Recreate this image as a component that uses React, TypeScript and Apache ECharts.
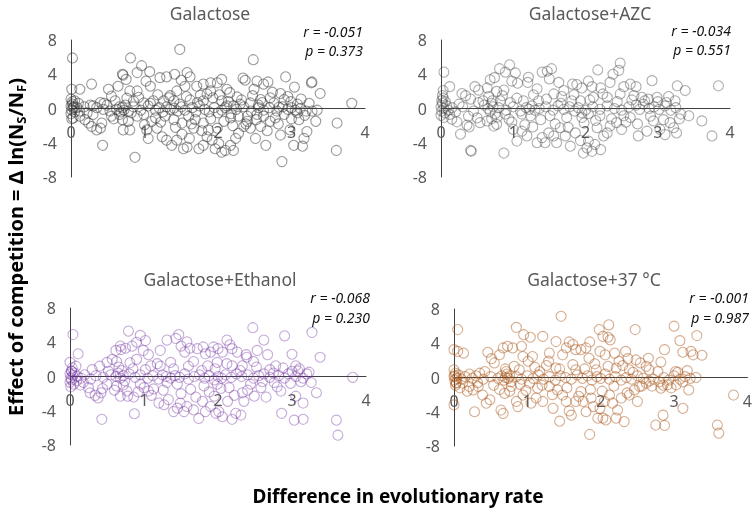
import React, { useEffect, useRef } from "react";
import * as echarts from "echarts";

const FONT = "Noto Sans";

const panelTitles = ["Galactose", "Galactose+AZC", "Galactose+Ethanol", "Galactose+37 °C"];
const rTexts = ["r = -0.051", "r = -0.034", "r = -0.068", "r = -0.001"];
const pTexts = ["p = 0.373", "p = 0.551", "p = 0.230", "p = 0.987"];
const xTicks = { min: 0, max: 4, interval: 1 };
const yTicks = { min: -8, max: 8, interval: 4 };
const xTitle = "Difference in evolutionary rate";

const galactose: number[][] = [
  [0.02,5.9],[1.48,6.9],[0.81,5.9],[2.48,5.7],[0.96,5.0],[1.07,4.3],[0.70,4.0],[0.71,3.9],[0.9,4.2],[1.21,3.6],[1.3,3.7],[1.41,4.0],[1.58,4.2],[1.62,3.7],[1.5,3.3],[0.75,3.4],[0.64,2.6],[0.28,2.85],[0.01,2.25],[0.12,2.25],[0.51,2.25],[0.55,1.45],[0.8,2.05],[0.9,2.05],[1.02,3.2],[1.08,2.6],[1.55,2.6],[1.71,2.6],[1.8,2.85],[1.9,3.0],[1.99,3.0],[2.05,3.4],[2.12,2.25],[2.16,1.85],[2.34,3.55],[2.37,3.3],[2.53,3.2],[2.68,3.1],[2.49,2.25],[2.62,2.85],[2.92,3.7],[3.04,2.5],[3.27,3.0],[3.28,3.1],[3.39,1.75],[2.85,1.75],[3.82,0.6],[3.24,0.6],[2.71,1.25],[2.58,1.05],[2.26,1.35],[1.93,1.25],[1.76,1.55],[1.62,1.0],[1.4,0.9],[1.26,0.9],[1.12,0.9],[0.99,0.65],[0.85,0.85],[0.4,0.7],[0.49,0.4],[0.26,0.4],[1.9,2.05],[2.05,0.9],[1.8,0.9],[1.44,2.05],[1.33,1.25],[2.9,1.05],[2.99,0.8],[3.08,0.5],[2.83,0.15],[2.76,0.65],[2.55,0.1],[2.44,0.65],[2.3,0.5],[2.21,0.3],[2.1,0.1],
  [0.03,-1.1],[0.12,-0.9],[0.19,-1.3],[0.24,-1.7],[0.28,-2.1],[0.35,-2.5],[0.4,-2.3],[0.42,-1.7],[0.43,-4.3],[0.3,-0.7],[0.55,-0.9],[0.7,-1.3],[0.71,-2.5],[0.8,-2.5],[0.78,-1.5],[0.87,-5.7],[0.9,-0.9],[0.99,-0.7],[1.03,-2.5],[1.05,-3.5],[1.1,-1.5],[1.17,-2.3],[1.24,-3.3],[1.3,-3.7],[1.37,-4.3],[1.44,-3.7],[1.51,-3.0],[1.53,-4.7],[1.58,-4.5],[1.61,-3.5],[1.67,-2.3],[1.74,-4.7],[1.8,-4.3],[1.85,-3.3],[1.87,-2.5],[1.92,-3.7],[1.96,-4.7],[2.01,-4.1],[2.05,-5.1],[2.1,-4.9],[2.17,-4.3],[2.21,-4.9],[2.24,-3.5],[2.28,-2.9],[2.35,-2.1],[2.4,-1.5],[2.44,-2.3],[2.51,-3.5],[2.58,-2.1],[2.65,-4.3],[2.71,-1.5],[2.78,-1.1],[2.85,-3.1],[2.87,-6.2],[2.98,-2.5],[3.03,-4.3],[3.1,-1.3],[3.15,-4.4],[3.17,-3.5],[3.21,-2.7],[3.33,-1.5],[3.62,-1.7],[3.61,-4.9],[1.99,-2.3],[1.8,-1.7],[1.69,-1.3],[1.6,-0.9],[1.51,-1.7],[1.4,-1.3],[1.28,-0.9],[1.15,-1.1],[2.17,-1.1],[2.28,-0.9],[2.4,-0.9],[2.53,-0.7],[2.62,-0.9],[2.9,-0.7],[3.08,-0.5],[0.53,-0.3],[0.44,-0.1],
  [0,0.3],[0.01,-0.2],[0.02,0.5],[0.03,0.1],[0.0,-0.6],[0.02,0.8],[0.01,-1.2],[0.04,0.2],[0.05,-0.4],[0.0,1.1],[0.08,0.1],[0.12,-0.3],[0.18,0.2],[0.22,-0.5],[0.3,0.3],[0.35,0.1],[0.62,-0.1],[0.66,0.2],[0.68,-0.4],[0.7,0.1],[0.72,-0.2],[0.74,0.4],[0.66,-0.7],[0.78,-0.3],[0.85,0.2],[0.95,-0.2],[1.05,0.3],[1.15,-0.2],[1.2,0.1],[1.25,-0.4],[1.3,0.2],[1.35,-0.1],[1.4,0.05],[1.45,-0.3],[1.5,0.2],[1.55,-0.2],[1.65,0.1],[1.7,-0.4],[1.75,0.3],[1.82,-0.1],[1.88,-0.4],[1.95,0.1],[2.0,-0.5],[2.05,-0.2],[2.12,0.3],[2.18,-0.6],[2.25,-0.1],[2.35,0.2],[2.45,-0.3],[2.55,0.4],[2.62,-0.2],[2.7,0.1],[2.8,-0.3],[2.88,0.2],[2.95,-0.1],[3.0,0.1],[3.05,-0.2],[3.12,0.0],[3.2,-0.3],
  [0.05,0.9],[0.1,0.6],[0.45,0.6],[0.58,-1.2],[0.6,0.9],[0.76,1.2],[0.82,-0.5],[0.92,1.3],[1.0,-1.9],[1.08,0.6],[1.18,1.6],[1.22,-1.6],[1.35,1.5],[1.42,-2.2],[1.48,0.5],[1.57,1.4],[1.64,-1.8],[1.72,0.7],[1.78,-2.6],[1.85,1.7],[1.9,-1.2],[2.02,1.6],[2.08,-1.5],[2.14,0.8],[2.2,-2.0],[2.32,1.0],[2.38,-1.8],[2.47,1.5],[2.52,-1.3],[2.6,0.7],[2.67,-2.6],[2.74,1.9],[2.82,-1.8],[2.95,1.4],[3.0,-1.2],[3.13,1.1],[3.18,-0.8],[3.28,-0.3],[3.35,-0.2]
];

const galactoseAZC: number[][] = [
  [0.04,4.25],[0.12,2.55],[0.03,2.1],[0.41,-4.9],[0.47,2.55],[0.52,2.15],[0.64,2.4],[0.68,3.35],[0.74,3.6],[0.81,4.65],[0.89,4.25],[0.95,5.1],[1.03,4.15],[0.98,3.2],[0.87,2.15],[0.77,2.0],[1.06,2.95],[1.21,3.65],[1.2,3.05],[1.33,2.3],[1.4,4.25],[1.47,4.35],[1.53,4.65],[1.5,3.45],[1.63,3.05],[1.7,2.1],[1.82,2.85],[1.88,2.8],[1.95,2.4],[2.04,3.2],[2.09,2.55],[2.17,4.5],[2.21,2.4],[2.34,3.05],[2.38,4.0],[2.46,4.45],[2.48,5.3],[2.53,2.55],[2.62,2.85],[2.7,2.55],[2.92,3.25],[3.27,2.65],[3.38,2.1],[3.84,2.65],[2.48,1.7],[2.3,1.3],[2.11,1.3],[1.67,1.4],[1.56,1.7],[1.35,0.9],[1.14,0.9],[0.96,0.7],[0.82,0.9],[0.71,0.9],[0.34,1.5],[0.29,1.75],[0.41,1.1],[0.52,0.7],[2.67,1.5],[2.78,1.3],[2.87,1.1],[2.99,1.3],[3.12,0.7],[3.24,0.9],[1.93,0.9],[1.81,0.9],
  [0.04,-1.05],[0.15,-1.25],[0.22,-1.55],[0.27,-3.0],[0.36,-1.95],[0.39,-2.15],[0.42,-5.0],[0.54,-1.65],[0.64,-1.45],[0.73,-2.05],[0.77,-1.85],[0.87,-5.2],[0.89,-0.65],[0.94,-1.25],[1.0,-2.45],[1.05,-3.8],[1.12,-2.65],[1.19,-3.2],[1.27,-2.15],[1.33,-4.0],[1.4,-3.4],[1.44,-4.0],[1.49,-2.85],[1.56,-3.2],[1.6,-4.0],[1.65,-2.25],[1.72,-3.2],[1.79,-4.4],[1.86,-2.85],[1.93,-3.75],[1.97,-5.2],[2.02,-4.6],[2.04,-3.8],[2.09,-5.0],[2.13,-4.2],[2.16,-2.25],[2.21,-4.8],[2.25,-3.2],[2.3,-2.85],[2.34,-2.05],[2.43,-1.65],[2.5,-2.45],[2.62,-1.05],[2.73,-3.2],[2.85,-2.65],[2.94,-1.45],[3.03,-2.45],[3.1,-3.05],[3.17,-1.65],[3.22,-2.25],[3.26,-2.85],[3.32,-0.65],[3.61,-1.45],[3.75,-3.2],[3.43,-0.85],[2.53,-0.85],[2.2,-0.85],[1.95,-1.05],[1.74,-1.05],[1.51,-0.85],[1.24,-0.85],[1.12,-0.65],
  [0.0,0.2],[0.01,-0.3],[0.02,0.6],[0.03,1.2],[0.0,-0.8],[0.04,0.0],[0.02,1.5],[0.05,-0.5],[0.01,0.9],[0.08,0.3],[0.1,-0.2],[0.15,0.1],[0.2,-0.4],[0.3,0.2],[0.45,-0.3],[0.6,0.4],[0.65,0.0],[0.68,-0.3],[0.7,0.6],[0.72,0.2],[0.75,-0.6],[0.8,0.1],[0.9,-0.2],[1.0,0.2],[1.1,-0.3],[1.18,0.1],[1.22,-0.1],[1.26,0.3],[1.3,-0.2],[1.36,0.0],[1.45,0.2],[1.55,-0.2],[1.62,0.3],[1.7,-0.1],[1.78,0.2],[1.85,-0.3],[1.9,0.1],[1.95,-0.5],[2.0,-0.2],[2.04,-0.6],[2.1,0.2],[2.2,-0.1],[2.3,0.3],[2.4,0.0],[2.5,-0.2],[2.6,0.2],[2.7,0.4],[2.75,-0.1],[2.8,0.5],[2.88,0.0],[2.95,0.2],[3.02,-0.1],[3.1,0.3],[3.18,-0.2],[3.25,0.1],
  [0.06,0.8],[0.12,-0.7],[0.25,0.5],[0.38,-0.9],[0.5,-1.1],[0.58,0.9],[0.66,1.4],[0.7,-1.2],[0.78,-1.0],[0.85,1.5],[0.98,-1.6],[1.05,1.2],[1.16,-1.9],[1.28,1.6],[1.38,-1.3],[1.46,1.1],[1.58,-1.8],[1.66,0.6],[1.76,-2.2],[1.84,1.6],[1.98,-1.7],[2.06,1.0],[2.14,-1.4],[2.24,1.7],[2.36,-1.2],[2.44,0.8],[2.56,-1.6],[2.64,1.0],[2.72,-1.8],[2.82,0.9],[2.9,-0.9],[3.0,0.8],[3.08,-1.3],[3.15,1.4],[3.3,-1.2]
];

const galactoseEthanol: number[][] = [
  [0.04,4.9],[0.11,2.65],[0.79,5.3],[0.95,4.8],[1.02,4.2],[0.9,4.0],[0.84,3.55],[0.68,3.55],[0.62,3.05],[0.69,3.15],[0.75,3.3],[1.06,2.55],[0.99,3.05],[1.22,3.05],[1.31,4.25],[1.43,4.45],[1.47,4.9],[1.5,3.55],[1.55,2.85],[1.58,4.05],[1.62,3.3],[1.72,3.25],[1.8,3.45],[1.83,2.65],[1.9,2.85],[1.94,3.45],[2.0,3.25],[2.06,2.85],[2.12,4.25],[2.16,3.7],[2.19,3.25],[2.26,2.85],[2.38,2.55],[2.39,2.25],[2.47,5.7],[2.53,3.05],[2.62,4.25],[2.67,2.55],[2.9,4.75],[3.0,2.6],[3.27,5.15],[3.38,2.25],[0.4,1.2],[0.5,1.65],[0.57,2.0],[0.63,1.75],[0.81,1.6],[0.9,2.0],[1.09,1.25],[1.22,1.2],[1.36,1.65],[1.67,1.75],[1.86,1.25],[1.99,1.65],[2.19,1.25],[2.33,1.25],[2.48,1.75],[2.78,1.25],[3.05,1.25],[3.08,0.65],[3.23,0.5],[3.82,-0.1],[0.0,1.65],[0.02,0.65],
  [0.05,-0.9],[0.09,-0.5],[0.18,-0.7],[0.25,-1.3],[0.27,-1.9],[0.34,-2.2],[0.38,-2.5],[0.42,-1.9],[0.43,-5.0],[0.5,-0.9],[0.63,-1.1],[0.68,-2.3],[0.77,-1.7],[0.78,-2.3],[0.86,-2.4],[0.87,-4.35],[0.95,-0.9],[1.0,-1.3],[1.06,-1.7],[1.13,-1.45],[1.2,-3.1],[1.27,-3.3],[1.33,-2.7],[1.4,-4.1],[1.45,-3.7],[1.49,-3.1],[1.54,-4.1],[1.58,-3.5],[1.63,-1.5],[1.67,-3.9],[1.74,-4.9],[1.79,-2.9],[1.83,-4.1],[1.9,-3.5],[1.95,-2.3],[1.97,-4.3],[2.01,-4.1],[2.06,-4.7],[2.13,-2.9],[2.19,-5.0],[2.24,-4.3],[2.31,-4.5],[2.33,-1.9],[2.35,-2.9],[2.44,-0.9],[2.49,-2.3],[2.58,-1.3],[2.65,-2.4],[2.76,-0.7],[2.85,-1.7],[2.86,-4.3],[3.03,-5.1],[3.05,-2.3],[3.15,-3.1],[3.15,-5.0],[3.26,-0.7],[3.33,-1.9],[3.6,-5.1],[3.62,-6.85],[2.15,-1.3],[1.99,-0.9],[1.81,-1.1],[1.45,-0.9],[1.31,-0.7],
  [0.0,0.3],[0.01,-0.2],[0.02,0.6],[0.0,-0.7],[0.03,1.0],[0.01,-1.2],[0.04,0.1],[0.02,-0.4],[0.06,0.4],[0.1,0.0],[0.15,-0.2],[0.2,0.2],[0.28,-0.3],[0.35,0.1],[0.45,-0.1],[0.55,0.2],[0.62,0.0],[0.65,0.4],[0.68,-0.2],[0.7,0.7],[0.72,0.1],[0.74,-0.5],[0.8,0.3],[0.88,-0.1],[0.95,0.2],[1.05,-0.2],[1.12,0.1],[1.2,-0.3],[1.25,0.2],[1.3,0.0],[1.36,-0.2],[1.42,0.1],[1.48,-0.1],[1.55,0.3],[1.6,-0.3],[1.68,0.0],[1.75,0.2],[1.82,-0.2],[1.88,0.1],[1.95,-0.4],[2.0,0.0],[2.05,-0.2],[2.1,0.2],[2.18,-0.1],[2.25,0.3],[2.32,0.0],[2.4,0.2],[2.48,-0.2],[2.55,0.1],[2.62,0.3],[2.7,-0.1],[2.75,0.4],[2.82,0.1],[2.9,-0.2],[2.95,0.3],[3.0,0.6],[3.05,0.0],[3.1,0.9],[3.15,-0.2],
  [0.08,1.2],[0.14,-1.0],[0.3,0.8],[0.44,-1.4],[0.52,0.6],[0.6,-1.6],[0.66,1.1],[0.72,-1.0],[0.85,0.9],[0.92,-1.8],[1.02,0.8],[1.1,-2.2],[1.18,1.5],[1.26,-1.6],[1.4,0.9],[1.5,-2.0],[1.6,1.2],[1.7,-2.4],[1.78,0.7],[1.88,-1.8],[1.96,0.9],[2.04,-1.4],[2.12,1.5],[2.22,-2.2],[2.3,0.7],[2.4,-1.6],[2.52,1.1],[2.6,-0.6],[2.7,0.8],[2.8,-1.2],[2.88,1.0],[2.98,-0.8],[3.12,-0.6],[3.2,0.3]
];

const galactose37: number[][] = [
  [0.05,5.6],[0.0,3.25],[0.05,3.05],[0.13,2.85],[0.0,-3.2],[0.46,2.95],[0.51,2.2],[0.55,1.7],[0.62,2.65],[0.67,3.45],[0.73,3.65],[0.8,3.45],[0.85,5.85],[0.92,3.65],[0.95,5.0],[1.04,4.7],[0.94,2.45],[1.01,1.9],[1.07,2.45],[1.21,4.8],[1.3,2.85],[1.29,1.9],[1.39,4.2],[1.46,7.15],[1.48,2.65],[1.53,3.45],[1.57,4.15],[1.62,3.85],[1.66,3.25],[1.73,3.25],[1.8,3.45],[1.85,4.15],[1.84,2.25],[1.98,5.6],[2.03,4.8],[2.11,6.15],[2.1,4.7],[2.13,4.4],[1.99,3.05],[2.06,2.65],[2.19,2.85],[2.25,1.9],[2.34,3.05],[2.37,2.2],[2.47,5.6],[2.48,2.05],[2.54,1.7],[2.65,2.25],[2.82,1.8],[2.87,3.25],[3.0,6.0],[3.08,4.3],[3.12,2.95],[3.23,3.05],[3.26,2.65],[3.31,4.9],[3.38,2.6],[3.02,0.7],[2.66,0.9],[2.39,0.9],[2.21,1.1],[1.94,0.9],[1.66,0.9],[1.39,1.1],[1.17,0.7],[0.89,0.9],[0.71,0.7],[0.35,0.5],[0.21,0.4],
  [0.03,-0.65],[0.12,-0.65],[0.21,-1.05],[0.26,-1.45],[0.28,-4.0],[0.33,-1.05],[0.39,-2.05],[0.44,-3.0],[0.49,-2.6],[0.64,-3.8],[0.67,-4.2],[0.69,-1.85],[0.78,-1.05],[0.85,-2.8],[0.87,-3.4],[0.94,-2.05],[1.03,-0.65],[1.05,-3.0],[1.12,-2.4],[1.14,-1.25],[1.21,-2.8],[1.3,-1.05],[1.35,-3.6],[1.41,-1.45],[1.44,-5.1],[1.48,-2.05],[1.53,-2.8],[1.57,-3.9],[1.6,-4.4],[1.66,-2.8],[1.73,-1.65],[1.76,-2.8],[1.8,-4.0],[1.85,-6.65],[1.87,-2.4],[1.9,-3.4],[1.96,-4.75],[1.99,-3.6],[2.03,-4.75],[2.05,-2.8],[2.07,-4.95],[2.12,-2.05],[2.16,-3.0],[2.21,-4.75],[2.23,-3.8],[2.28,-2.4],[2.32,-5.15],[2.39,-2.05],[2.46,-1.45],[2.5,-2.8],[2.53,-1.05],[2.62,-0.65],[2.75,-5.55],[2.82,-1.25],[2.85,-4.4],[2.87,-5.6],[2.91,-0.85],[3.03,-0.85],[3.12,-3.6],[3.2,-1.45],[3.59,-5.55],[3.61,-6.5],[3.81,-2.05],
  [0.0,0.1],[0.01,-0.3],[0.02,0.5],[0.0,0.9],[0.03,-0.6],[0.01,0.2],[0.04,-0.1],[0.02,-0.9],[0.06,0.3],[0.1,-0.2],[0.15,0.1],[0.25,-0.1],[0.3,0.2],[0.4,-0.2],[0.5,0.1],[0.6,-0.1],[0.65,0.2],[0.68,-0.3],[0.7,0.0],[0.72,0.4],[0.74,-0.1],[0.76,0.2],[0.78,-0.5],[0.85,0.1],[0.92,-0.2],[1.0,0.2],[1.08,-0.1],[1.15,0.3],[1.22,-0.2],[1.3,0.1],[1.38,-0.3],[1.45,0.2],[1.52,0.0],[1.6,-0.2],[1.68,0.3],[1.75,-0.1],[1.82,0.2],[1.88,-0.3],[1.95,0.1],[2.0,-0.1],[2.06,0.4],[2.12,-0.2],[2.2,0.1],[2.28,-0.3],[2.35,0.0],[2.42,-0.2],[2.5,0.2],[2.58,-0.1],[2.66,-0.4],[2.72,-0.2],[2.8,-0.5],[2.86,0.0],[2.93,-0.3],[3.0,0.2],[3.08,-0.2],[3.15,0.1],[3.22,-0.1],[3.3,0.0],
  [0.08,-1.2],[0.18,-1.6],[0.32,-0.6],[0.42,0.7],[0.54,-0.9],[0.62,-1.4],[0.7,1.0],[0.76,-1.6],[0.82,1.3],[0.9,-0.8],[0.98,-1.5],[1.1,1.2],[1.2,-0.9],[1.26,1.4],[1.34,-2.0],[1.44,1.0],[1.54,-1.2],[1.62,1.5],[1.7,-2.2],[1.78,1.0],[1.86,-1.4],[1.92,1.6],[2.02,-1.6],[2.1,1.3],[2.18,-1.0],[2.3,1.4],[2.36,-1.8],[2.44,0.6],[2.56,-1.0],[2.62,1.3],[2.7,-1.0],[2.78,0.7],[2.85,-0.9],[2.96,-1.2],[3.05,0.6],[3.12,-0.5],[3.18,0.8]
];

const seriesData = [galactose, galactoseAZC, galactoseEthanol, galactose37];
const pointColors = [
  "rgba(50,50,50,0.62)",
  "rgba(70,70,70,0.55)",
  "rgba(112,48,160,0.5)",
  "rgba(170,85,25,0.6)",
];

const grids = [
  { left: 71, top: 40, width: 294, height: 137 },
  { left: 441, top: 40, width: 289, height: 137 },
  { left: 70, top: 308, width: 296, height: 137 },
  { left: 454, top: 309, width: 294, height: 137 },
];
const titlePos = [[210, 13], [590, 13], [220, 279], [594, 279]];
const statPos = [[363, 31, 50], [731, 30, 49], [370, 297, 317], [749, 297, 317]];

export default function App() {
  const ref = useRef<HTMLDivElement>(null);
  useEffect(() => {
    if (!ref.current) return;
    const chart = echarts.init(ref.current, undefined, { renderer: "svg" });
    const axisColor = "#404040";
    const labelColor = "#595959";
    const graphic: any[] = [];
    panelTitles.forEach((t, i) => {
      graphic.push({
        type: "text", x: titlePos[i][0], y: titlePos[i][1],
        style: { text: t, fontSize: 17.5, fontFamily: FONT, fill: labelColor, textAlign: "center", textVerticalAlign: "middle" },
      });
      graphic.push({
        type: "text", x: statPos[i][0], y: statPos[i][1],
        style: { text: rTexts[i], fontSize: 14, fontStyle: "italic", fontFamily: FONT, fill: "#111", textAlign: "right", textVerticalAlign: "middle" },
      });
      graphic.push({
        type: "text", x: statPos[i][0], y: statPos[i][2],
        style: { text: pTexts[i], fontSize: 14, fontStyle: "italic", fontFamily: FONT, fill: "#111", textAlign: "right", textVerticalAlign: "middle" },
      });
    });
    graphic.push({
      type: "text", x: 398, y: 496,
      style: { text: xTitle, fontSize: 19, fontWeight: "bold", fontFamily: FONT, fill: "#000", textAlign: "center", textVerticalAlign: "middle" },
    });
    graphic.push({
      type: "text", x: 15, y: 247, rotation: Math.PI / 2,
      style: {
        text: "{a|Effect of competition = Δ ln(N}{s|S}{a|/N}{s|F}{a|)}",
        textAlign: "center", textVerticalAlign: "middle",
        rich: {
          a: { fontSize: 20, fontWeight: "bold", fontFamily: FONT, fill: "#000", lineHeight: 25, verticalAlign: "middle" },
          s: { fontSize: 13, fontWeight: "bold", fontFamily: FONT, fill: "#000", lineHeight: 25, verticalAlign: "bottom", padding: [9, 0, 0, 0] },
        },
      },
    });

    chart.setOption({
      animation: false,
      grid: grids.map((g) => ({ ...g })),
      xAxis: grids.map((g, i) => ({
        gridIndex: i, type: "value", min: xTicks.min, max: xTicks.max, interval: xTicks.interval,
        offset: -g.height / 2,
        axisLine: { show: true, onZero: false, lineStyle: { color: axisColor, width: 1 } },
        axisTick: { show: false }, splitLine: { show: false },
        axisLabel: { color: labelColor, fontSize: 16, fontFamily: FONT, margin: 15 },
      })),
      yAxis: grids.map((_, i) => ({
        gridIndex: i, type: "value", min: yTicks.min, max: yTicks.max, interval: yTicks.interval,
        axisLine: { show: true, onZero: false, lineStyle: { color: axisColor, width: 1 } },
        axisTick: { show: false }, splitLine: { show: false },
        axisLabel: { color: labelColor, fontSize: 16, fontFamily: FONT, margin: 14 },
      })),
      series: seriesData.map((d, i) => ({
        type: "scatter", xAxisIndex: i, yAxisIndex: i, data: d,
        symbol: "circle", symbolSize: 10,
        itemStyle: { color: "rgba(0,0,0,0)", borderColor: pointColors[i], borderWidth: 1.1 },
        emphasis: { disabled: true },
      })),
      graphic,
    });
    return () => chart.dispose();
  }, []);
  return <div ref={ref} style={{ position: "fixed", left: 0, top: 0, width: 755, height: 511 }} />;
}
